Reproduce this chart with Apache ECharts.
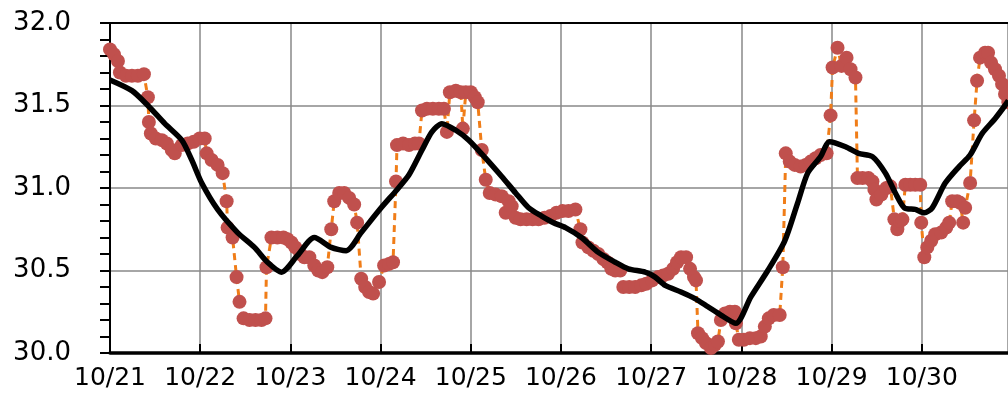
<!DOCTYPE html>
<html>
<head>
<meta charset="utf-8">
<script src="https://cdn.jsdelivr.net/npm/echarts@6/dist/echarts.min.js"></script>
<style>
html,body{margin:0;padding:0;background:#fff;}
#chart{width:1008px;height:401px;}
</style>
</head>
<body>
<div id="chart"></div>
<script>
// Day labels (x axis, days since 10/21 00:00)
const dayLabels = ['10/21','10/22','10/23','10/24','10/25','10/26','10/27','10/28','10/29','10/30','10/31'];

// Measured temperature (red dots) - time in days since 10/21
const redDays = [0,0.044,0.088,0.110,0.177,0.243,0.309,0.376,0.420,0.431,0.453,0.508,0.575,0.630,0.685,0.718,0.796,0.862,0.928,0.994,1.050,1.072,1.127,1.193,1.249,1.293,1.304,1.359,1.403,1.436,1.481,1.547,1.613,1.680,1.724,1.735,1.790,1.856,1.923,1.967,2.011,2.055,2.110,2.155,2.210,2.265,2.309,2.354,2.409,2.453,2.486,2.541,2.597,2.652,2.707,2.740,2.785,2.829,2.873,2.917,2.983,3.039,3.094,3.138,3.171,3.182,3.249,3.315,3.381,3.425,3.459,3.514,3.580,3.646,3.702,3.735,3.768,3.834,3.890,3.912,3.945,4.000,4.044,4.077,4.122,4.166,4.210,4.276,4.343,4.387,4.420,4.453,4.497,4.552,4.619,4.685,4.751,4.818,4.884,4.950,5.017,5.083,5.160,5.215,5.238,5.304,5.359,5.414,5.470,5.514,5.558,5.602,5.657,5.691,5.757,5.823,5.890,5.945,6.011,6.077,6.133,6.188,6.243,6.287,6.331,6.387,6.431,6.475,6.497,6.519,6.564,6.608,6.663,6.707,6.740,6.773,6.818,6.873,6.928,6.939,6.972,7.028,7.094,7.160,7.215,7.260,7.304,7.359,7.425,7.459,7.492,7.536,7.591,7.657,7.713,7.768,7.823,7.878,7.945,7.989,8.011,8.066,8.110,8.166,8.210,8.265,8.287,8.343,8.409,8.453,8.475,8.497,8.552,8.608,8.652,8.696,8.729,8.762,8.785,8.818,8.873,8.928,8.983,8.994,9.028,9.061,9.105,9.149,9.215,9.271,9.304,9.337,9.392,9.425,9.459,9.481,9.536,9.580,9.613,9.646,9.702,9.735,9.768,9.812,9.856,9.890,9.923,9.960];
const redTemps = [31.84,31.81,31.77,31.70,31.68,31.68,31.68,31.69,31.55,31.40,31.33,31.30,31.29,31.27,31.23,31.21,31.26,31.27,31.28,31.30,31.30,31.21,31.17,31.14,31.09,30.92,30.76,30.70,30.46,30.31,30.21,30.20,30.20,30.20,30.21,30.52,30.70,30.70,30.70,30.69,30.67,30.64,30.60,30.58,30.58,30.53,30.50,30.49,30.52,30.75,30.92,30.97,30.97,30.94,30.90,30.79,30.45,30.40,30.37,30.36,30.43,30.53,30.54,30.55,31.04,31.26,31.27,31.26,31.27,31.27,31.47,31.48,31.48,31.48,31.48,31.34,31.58,31.59,31.58,31.36,31.58,31.58,31.55,31.52,31.23,31.05,30.97,30.96,30.95,30.85,30.92,30.89,30.82,30.81,30.81,30.81,30.81,30.82,30.83,30.85,30.86,30.86,30.87,30.75,30.67,30.64,30.62,30.60,30.57,30.55,30.51,30.50,30.50,30.40,30.40,30.40,30.41,30.42,30.44,30.46,30.47,30.48,30.51,30.55,30.58,30.58,30.51,30.46,30.44,30.12,30.09,30.06,30.03,30.05,30.07,30.20,30.24,30.25,30.25,30.18,30.08,30.08,30.09,30.09,30.10,30.16,30.21,30.23,30.23,30.52,31.21,31.16,31.14,31.13,31.14,31.16,31.18,31.20,31.21,31.44,31.73,31.85,31.74,31.79,31.72,31.67,31.06,31.06,31.06,31.04,30.99,30.93,30.96,31.00,31.01,30.81,30.75,30.80,30.81,31.02,31.02,31.02,31.02,30.79,30.58,30.64,30.68,30.72,30.73,30.76,30.79,30.92,30.92,30.91,30.79,30.88,31.03,31.41,31.65,31.79,31.82,31.82,31.76,31.72,31.68,31.63,31.57,31.52];

// Moving average (black line)
const avgDays = [0,0.243,0.420,0.608,0.796,0.906,1.017,1.193,1.414,1.602,1.746,1.901,2.077,2.265,2.453,2.619,2.785,3.006,3.182,3.315,3.459,3.569,3.680,3.834,3.978,4.166,4.343,4.497,4.641,4.785,4.917,5.050,5.227,5.414,5.602,5.746,5.934,6.044,6.155,6.331,6.486,6.630,6.773,6.939,7.105,7.293,7.481,7.624,7.735,7.878,7.978,8.155,8.298,8.453,8.597,8.707,8.807,8.928,9.028,9.116,9.260,9.414,9.536,9.669,9.812,9.923,9.960];
const avgTemps = [31.655,31.59,31.50,31.39,31.29,31.17,31.03,30.87,30.73,30.64,30.55,30.49,30.59,30.70,30.64,30.62,30.73,30.88,30.99,31.08,31.23,31.34,31.39,31.35,31.29,31.18,31.07,30.97,30.88,30.83,30.79,30.76,30.70,30.61,30.55,30.51,30.49,30.46,30.41,30.37,30.33,30.28,30.23,30.18,30.34,30.50,30.68,30.91,31.09,31.19,31.28,31.25,31.21,31.19,31.09,30.97,30.88,30.87,30.85,30.88,31.03,31.13,31.20,31.33,31.42,31.50,31.53];

const redData = redDays.map((d, i) => [d, redTemps[i]]);
const avgData = avgDays.map((d, i) => [d, avgTemps[i]]);

const FONT = 'DejaVu Sans';
const chart = echarts.init(document.getElementById('chart'), null, {renderer: 'canvas'});
const xMax = 9.956;
chart.setOption({
  animation: false,
  backgroundColor: '#ffffff',
  grid: {left: 110, right: -3, top: 23, bottom: 48, containLabel: false},
  xAxis: [{
    type: 'value', min: 0, max: xMax, interval: 1,
    axisLine: {show: true, lineStyle: {color: '#000', width: 3.5}},
    axisTick: {show: true, inside: true, length: 9, lineStyle: {color: '#000', width: 2}},
    axisLabel: {
      show: true, margin: 13, fontFamily: FONT, fontSize: 25, color: '#000',
      showMaxLabel: false,
      formatter: v => (Math.abs(v - Math.round(v)) < 1e-6 ? (dayLabels[Math.round(v)] || '') : '')
    },
    splitLine: {show: true, lineStyle: {color: '#888', width: 1.5}}
  }, {
    type: 'value', position: 'top', min: 0, max: xMax,
    axisLine: {show: true, lineStyle: {color: '#000', width: 2}},
    axisTick: {show: false}, axisLabel: {show: false}, splitLine: {show: false}
  }],
  yAxis: {
    type: 'value', min: 30, max: 32, interval: 0.5,
    axisLine: {show: true, lineStyle: {color: '#000', width: 2}},
    axisTick: {show: true, length: 10, lineStyle: {color: '#000', width: 2}},
    minorTick: {show: true, splitNumber: 5, length: 10, lineStyle: {color: '#000', width: 2}},
    axisLabel: {margin: 39, fontFamily: FONT, fontSize: 26, color: '#000', formatter: v => v.toFixed(1)},
    splitLine: {show: true, lineStyle: {color: '#888', width: 1.5}}
  },
  series: [{
    type: 'line', data: redData, xAxisIndex: 0,
    symbol: 'circle', symbolSize: 14, showSymbol: true, clip: false,
    itemStyle: {color: '#c0504d'},
    lineStyle: {color: '#f07d18', width: 3, type: [7, 5]},
    z: 2
  }, {
    type: 'line', data: avgData, xAxisIndex: 0,
    symbol: 'none', smooth: 0.25, clip: true,
    lineStyle: {color: '#000', width: 5.5},
    z: 3
  }]
});
</script>
</body>
</html>
